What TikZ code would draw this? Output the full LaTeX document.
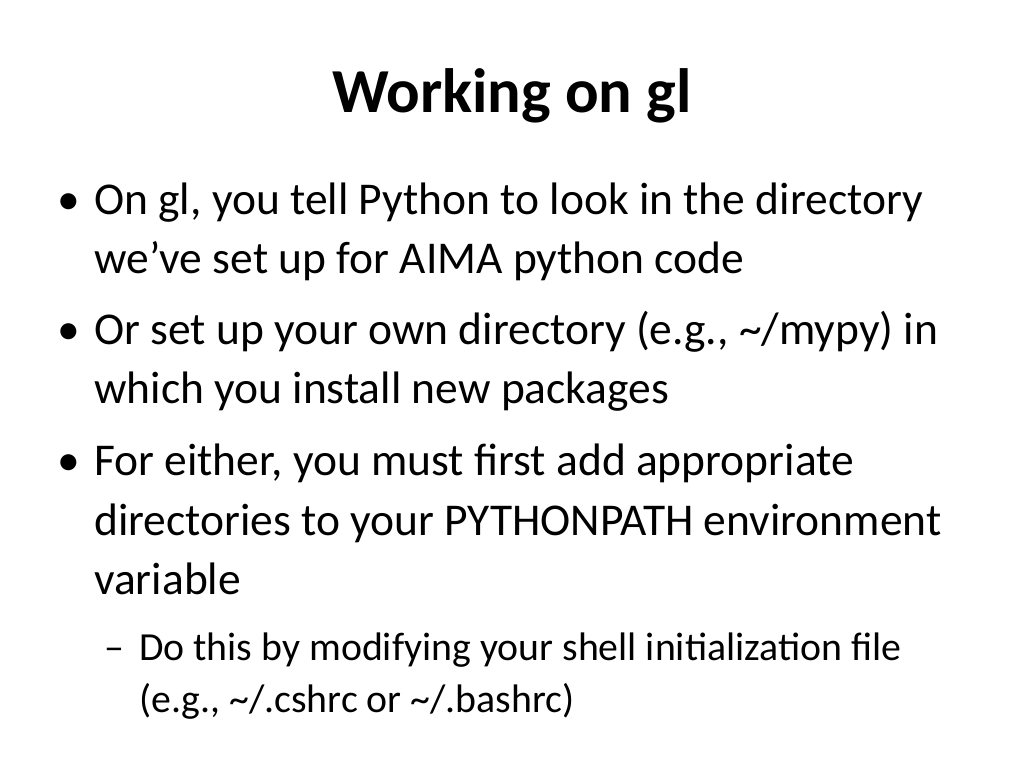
\documentclass[tikz,border=0pt]{standalone}
\usepackage{fontspec}
\setmainfont{Carlito}
\begin{document}
\begin{tikzpicture}[x=1pt,y=-1pt,
  ln/.style={anchor=base west,inner sep=0pt,font=\fontsize{45.5}{50}\selectfont},
  sl/.style={anchor=base west,inner sep=0pt,font=\fontsize{39.8}{44}\selectfont}]
\useasboundingbox (0,0) rectangle (1024,768);
\node[anchor=base,inner sep=0pt,font=\fontsize{62.6}{70}\bfseries\selectfont] (title) at (512,112) {Working on gl};
\node[ln] (b1) at (57,214) {•};
\node[ln] (l1) at (94,214) {On gl, you tell Python to look in the directory};
\node[ln] (l2) at (94,273) {we’ve set up for AIMA python code};
\node[ln] (b2) at (57,344) {•};
\node[ln] (l3) at (94,344) {Or set up your own directory (e.g., \textasciitilde/mypy) in};
\node[ln] (l4) at (94,403) {which you install new packages};
\node[ln] (b3) at (57,475) {•};
\node[ln] (l5) at (94,475) {For either, you must first add appropriate};
\node[ln] (l6) at (94,535) {directories to your PYTHONPATH environment};
\node[ln] (l7) at (94,594) {variable};
\node[sl] (d1) at (104,660) {–};
\node[sl] (l8) at (139,660) {Do this by modifying your shell initialization file};
\node[sl] (l9) at (139,712) {(e.g., \textasciitilde/.cshrc or \textasciitilde/.bashrc)};
\end{tikzpicture}
\end{document}
